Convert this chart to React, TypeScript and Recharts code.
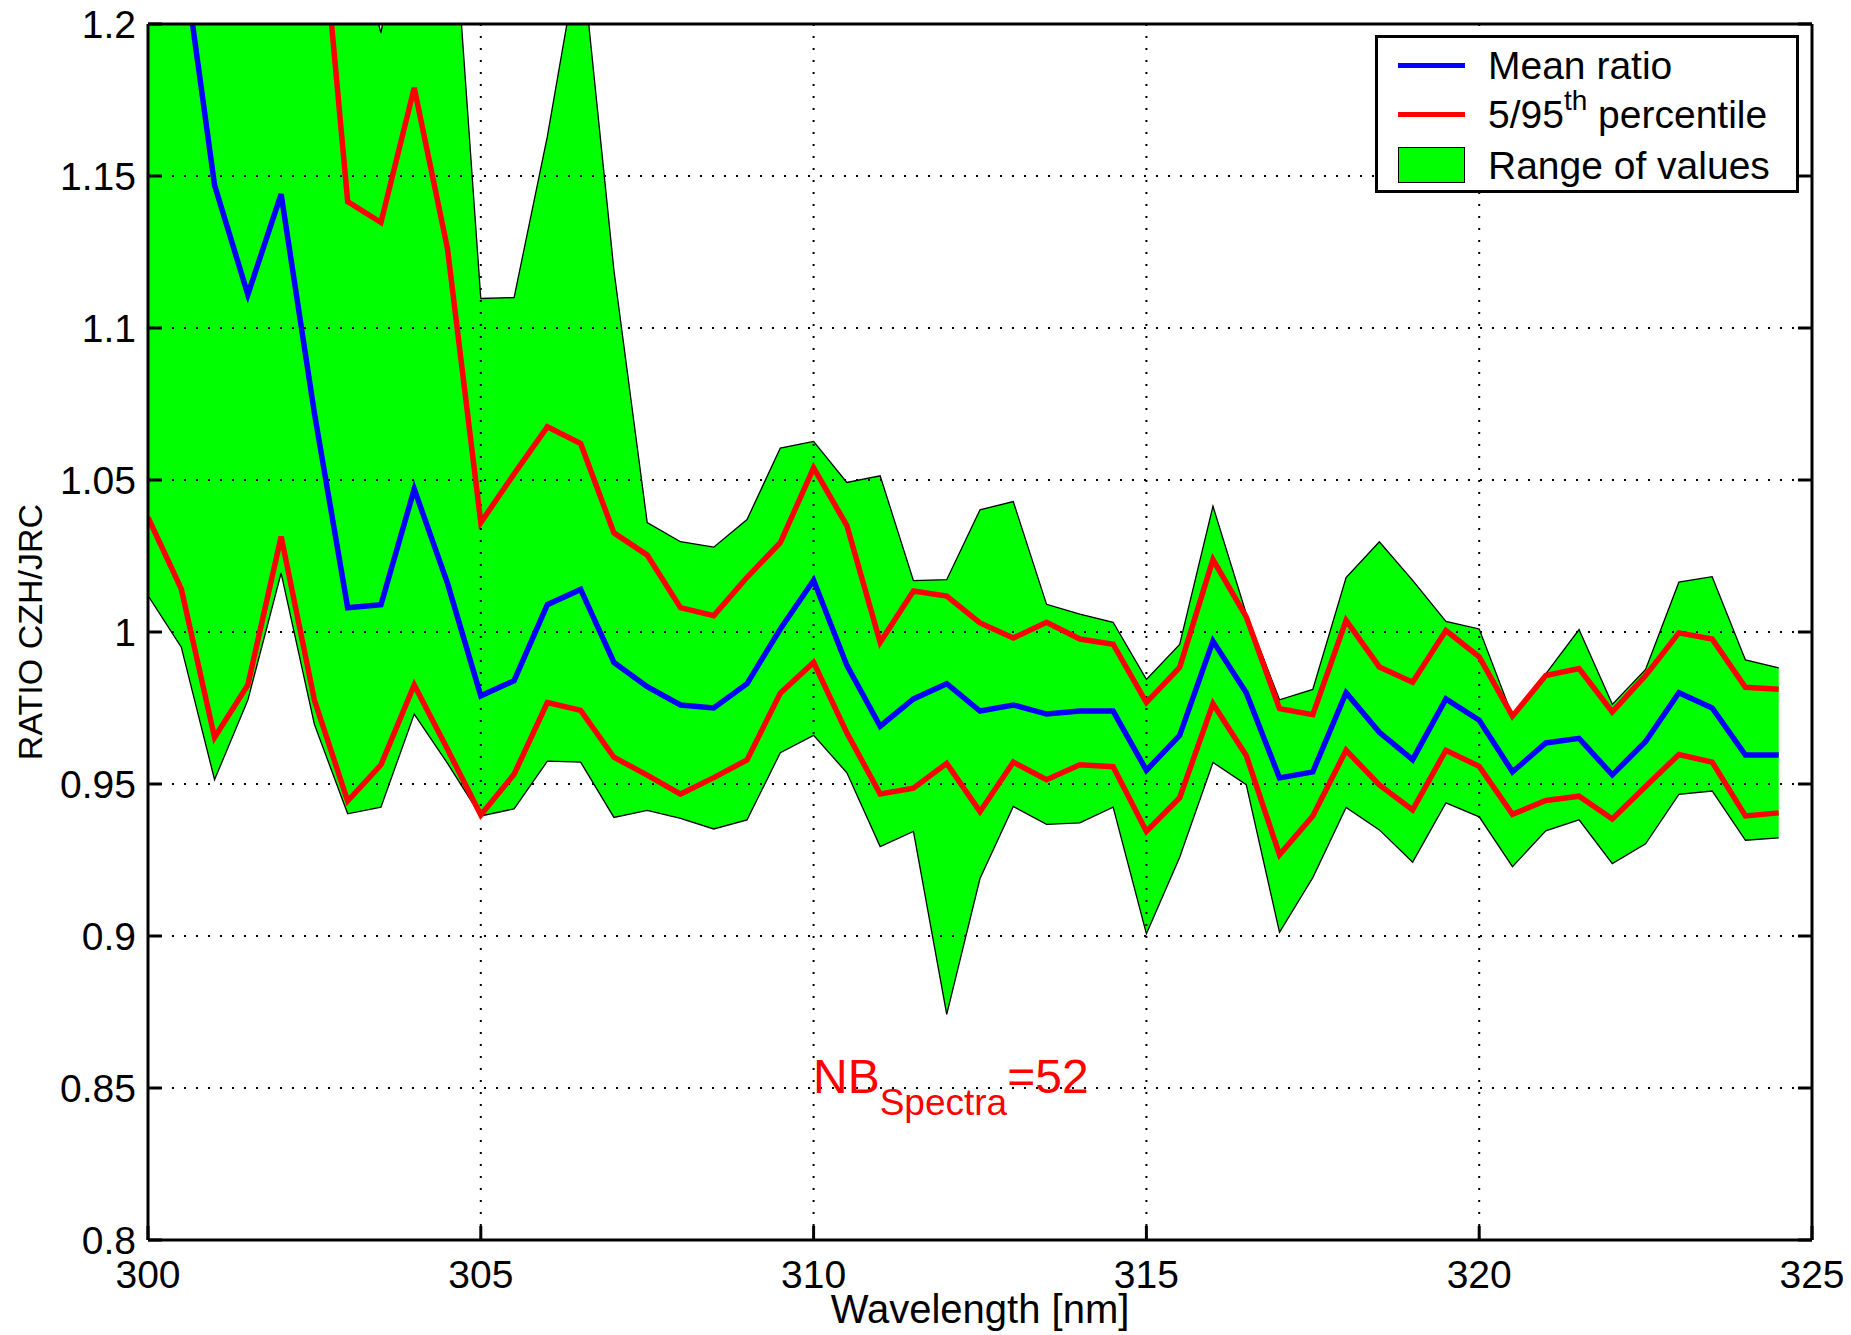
import { ComposedChart, Area, Line, XAxis, YAxis, CartesianGrid, Legend } from "recharts";

const FONT = "'Liberation Sans', Arial, Helvetica, sans-serif";

const wavelengths = [
  300, 300.5, 301, 301.5, 302, 302.5, 303, 303.5, 304, 304.5,
  305, 305.5, 306, 306.5, 307, 307.5, 308, 308.5, 309, 309.5,
  310, 310.5, 311, 311.5, 312, 312.5, 313, 313.5, 314, 314.5,
  315, 315.5, 316, 316.5, 317, 317.5, 318, 318.5, 319, 319.5,
  320, 320.5, 321, 321.5, 322, 322.5, 323, 323.5, 324, 324.5,
];

const meanRatio = [
  1.26, 1.227, 1.147, 1.111, 1.144, 1.072, 1.008, 1.009, 1.047, 1.016,
  0.979, 0.984, 1.009, 1.014, 0.99, 0.982, 0.976, 0.975, 0.983, 1.001,
  1.017, 0.989, 0.969, 0.978, 0.983, 0.974, 0.976, 0.973, 0.974, 0.974,
  0.9545, 0.966, 0.997, 0.98, 0.952, 0.954, 0.98, 0.967, 0.958, 0.978,
  0.971, 0.954, 0.9635, 0.965, 0.953, 0.964, 0.98, 0.975, 0.9595, 0.9595,
];

const pct95 = [
  1.3, 1.3, 1.27, 1.27, 1.28, 1.262, 1.1416, 1.1347, 1.179, 1.126,
  1.036, 1.052, 1.0675, 1.062, 1.0326, 1.0253, 1.008, 1.0054, 1.018, 1.0294,
  1.054, 1.035, 0.9966, 1.0135, 1.0118, 1.003, 0.998, 1.0032, 0.9977, 0.996,
  0.9768, 0.9884, 1.0238, 1.005, 0.9748, 0.9728, 1.0038, 0.9885, 0.9835, 1.0005,
  0.9918, 0.9723, 0.9857, 0.988, 0.9737, 0.9857, 0.9997, 0.9977, 0.9818, 0.9812,
];

const pct5 = [
  1.0377, 1.0142, 0.9653, 0.9826, 1.0314, 0.9776, 0.9444, 0.9563, 0.9826, 0.9614,
  0.9398, 0.9532, 0.9768, 0.9742, 0.9588, 0.9529, 0.9467, 0.9521, 0.9579, 0.9799,
  0.99, 0.9668, 0.9467, 0.9486, 0.9568, 0.9409, 0.9572, 0.9514, 0.9563, 0.9557,
  0.9344, 0.9455, 0.9764, 0.9594, 0.9267, 0.9395, 0.9611, 0.9497, 0.9415, 0.9611,
  0.9558, 0.94, 0.9446, 0.946, 0.9385, 0.9492, 0.9597, 0.9572, 0.9395, 0.9405,
];

const rangeMax = [
  1.35, 1.35, 1.33, 1.32, 1.33, 1.31, 1.24, 1.197, 1.26, 1.265,
  1.1097, 1.11, 1.163, 1.226, 1.119, 1.036, 1.0297, 1.0279, 1.037, 1.0605,
  1.0627, 1.0492, 1.0514, 1.0169, 1.0172, 1.0402, 1.0429, 1.0091, 1.0059, 1.0032,
  0.9844, 0.9959, 1.0414, 1.006, 0.9777, 0.9811, 1.0179, 1.0297, 1.017, 1.0035,
  1.001, 0.9723, 0.9862, 1.0008, 0.9762, 0.9877, 1.0164, 1.0182, 0.9908, 0.9882,
];

const rangeMin = [
  1.012, 0.995, 0.9514, 0.9776, 1.0194, 0.9696, 0.9402, 0.9424, 0.973, 0.9568,
  0.9395, 0.9418, 0.9575, 0.9572, 0.939, 0.9413, 0.9387, 0.9352, 0.9382, 0.9603,
  0.966, 0.9537, 0.9294, 0.9344, 0.8742, 0.9189, 0.9426, 0.9367, 0.9372, 0.9424,
  0.9007, 0.9259, 0.9571, 0.9498, 0.9012, 0.9192, 0.9423, 0.9349, 0.9243, 0.9438,
  0.9392, 0.9228, 0.9346, 0.9382, 0.9238, 0.9303, 0.9466, 0.9477, 0.9315, 0.9323,
];

const xTicks = [300, 305, 310, 315, 320, 325];
const yTicks = [0.8, 0.85, 0.9, 0.95, 1, 1.05, 1.1, 1.15, 1.2];

const data = wavelengths.map((wl, i) => ({
  wl,
  range: [rangeMin[i], rangeMax[i]],
  mean: meanRatio[i],
  p5: pct5[i],
  p95: pct95[i],
}));

const W = 1843;
const H = 1327;
const TICK_LEN = 14;
const X_MARGIN = 20;
const Y_MARGIN = 12;
const axisLine = { stroke: "#000", strokeWidth: 3 };

// matlab style: tick marks point into the plot box
const BottomTick = (p: any) => {
  const base = p.y - X_MARGIN;
  return (
    <g>
      <line x1={p.x} y1={base} x2={p.x} y2={base - TICK_LEN} stroke="#000" strokeWidth={3} />
      <text x={p.x} y={p.y} dy="0.71em" textAnchor="middle" fontSize={39} fontFamily={FONT} fill="#000">
        {p.payload.value}
      </text>
    </g>
  );
};

const LeftTick = (p: any) => {
  const base = p.x + Y_MARGIN;
  return (
    <g>
      <line x1={base} y1={p.y} x2={base + TICK_LEN} y2={p.y} stroke="#000" strokeWidth={3} />
      <text x={p.x} y={p.y} textAnchor="end" dominantBaseline="central" fontSize={39} fontFamily={FONT} fill="#000">
        {p.payload.value}
      </text>
    </g>
  );
};

const TopTick = (p: any) => (
  <line x1={p.x} y1={p.y} x2={p.x} y2={p.y + TICK_LEN} stroke="#000" strokeWidth={3} />
);

const RightTick = (p: any) => (
  <line x1={p.x} y1={p.y} x2={p.x - TICK_LEN} y2={p.y} stroke="#000" strokeWidth={3} />
);

const renderYLabel = (props: any) => {
  const vb = props.viewBox;
  const cx = vb.x + 22;
  const cy = vb.y + vb.height / 2;
  return (
    <text
      x={cx}
      y={cy}
      transform={`rotate(-90, ${cx}, ${cy})`}
      textAnchor="middle"
      dominantBaseline="central"
      fontSize={34}
      fontFamily={FONT}
      fill="#000"
    >
      RATIO CZH/JRC
    </text>
  );
};

const renderXLabel = (props: any) => {
  const vb = props.viewBox;
  return (
    <text
      x={vb.x + vb.width / 2}
      y={vb.y + 83}
      textAnchor="middle"
      fontSize={40}
      fontFamily={FONT}
      fill="#000"
    >
      Wavelength [nm]
    </text>
  );
};

const LegendBox = () => {
  const row = (top: number) => ({
    position: "absolute" as const,
    left: 20,
    top,
    height: 50,
    display: "flex",
    alignItems: "center",
    whiteSpace: "nowrap" as const,
  });
  const sample = (color: string) => (
    <div style={{ width: 67, height: 5, background: color }} />
  );
  const label = { marginLeft: 23, lineHeight: "1" };
  return (
    <div
      style={{
        position: "relative",
        width: 424,
        height: 158,
        boxSizing: "border-box",
        border: "3px solid #000",
        background: "#fff",
        fontFamily: FONT,
        fontSize: 39,
        color: "#000",
      }}
    >
      <div style={row(2)}>
        {sample("#0000ff")}
        <span style={label}>Mean ratio</span>
      </div>
      <div style={row(51)}>
        {sample("#ff0000")}
        <span style={label}>
          5/95
          <span style={{ fontSize: 28, position: "relative", top: -18 }}>th</span>{" "}
          percentile
        </span>
      </div>
      <div style={row(102)}>
        <div
          style={{
            width: 67,
            height: 36,
            boxSizing: "border-box",
            background: "#00ff00",
            border: "1.5px solid #000",
          }}
        />
        <span style={label}>Range of values</span>
      </div>
    </div>
  );
};

export default function App() {
  return (
    <div style={{ position: "relative", width: W, height: H }}>
      {/* the top tick label sits on the svg edge, let it spill into the body margin */}
      <style>{".recharts-surface{overflow:visible}"}</style>
      <ComposedChart
        width={W}
        height={H}
        data={data}
        margin={{ top: 15, right: 38, bottom: 0, left: 0 }}
      >
        <XAxis
          dataKey="wl"
          type="number"
          domain={[300, 325]}
          ticks={xTicks}
          interval={0}
          allowDataOverflow
          height={95}
          axisLine={axisLine}
          tickLine={false}
          tickSize={0}
          tickMargin={X_MARGIN}
          tick={BottomTick}
          label={renderXLabel}
        />
        <XAxis
          xAxisId="top"
          orientation="top"
          type="number"
          domain={[300, 325]}
          ticks={xTicks}
          interval={0}
          allowDataOverflow
          height={1}
          axisLine={axisLine}
          tickLine={false}
          tickSize={0}
          tickMargin={0}
          tick={TopTick}
        />
        <YAxis
          type="number"
          domain={[0.8, 1.2]}
          ticks={yTicks}
          interval={0}
          allowDataOverflow
          width={140}
          axisLine={axisLine}
          tickLine={false}
          tickSize={0}
          tickMargin={Y_MARGIN}
          tick={LeftTick}
          label={renderYLabel}
        />
        <YAxis
          yAxisId="right"
          orientation="right"
          type="number"
          domain={[0.8, 1.2]}
          ticks={yTicks}
          interval={0}
          allowDataOverflow
          width={1}
          axisLine={axisLine}
          tickLine={false}
          tickSize={0}
          tickMargin={0}
          tick={RightTick}
        />
        <Area
          type="linear"
          dataKey="range"
          fill="#00ff00"
          fillOpacity={1}
          stroke="#000"
          strokeWidth={1.3}
          isAnimationActive={false}
          legendType="none"
        />
        <CartesianGrid
          stroke="#000"
          strokeWidth={2}
          strokeDasharray="2 10"
          zIndex={150}
        />
        <Line
          type="linear"
          dataKey="p95"
          stroke="#ff0000"
          strokeWidth={5.5}
          dot={false}
          isAnimationActive={false}
        />
        <Line
          type="linear"
          dataKey="p5"
          stroke="#ff0000"
          strokeWidth={5.5}
          dot={false}
          isAnimationActive={false}
        />
        <Line
          type="linear"
          dataKey="mean"
          stroke="#0000ff"
          strokeWidth={5.5}
          dot={false}
          isAnimationActive={false}
        />
        <Legend
          layout="horizontal"
          verticalAlign="middle"
          align="center"
          content={() => <LegendBox />}
          wrapperStyle={{ position: "absolute", left: 1367, top: 27, width: 424, height: 158 }}
        />
      </ComposedChart>
      <svg
        width={W}
        height={H}
        style={{ position: "absolute", left: 0, top: 0, pointerEvents: "none" }}
      >
        <text x={805} y={1085} fill="#ff0000" fontFamily={FONT} fontSize={48}>
          NB
          <tspan fontSize={37} dy={22}>Spectra</tspan>
          <tspan fontSize={48} dy={-22}>=52</tspan>
        </text>
      </svg>
    </div>
  );
}
